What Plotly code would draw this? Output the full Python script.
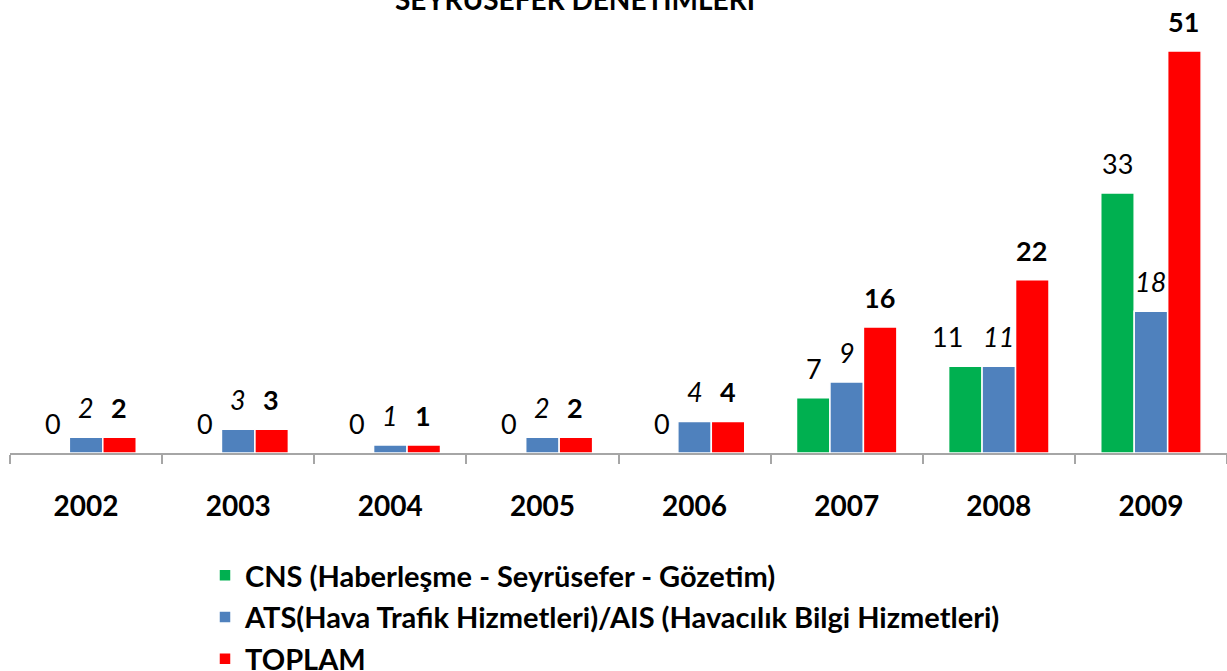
import plotly.graph_objects as go

years = ["2002", "2003", "2004", "2005", "2006", "2007", "2008", "2009"]
cns = [0, 0, 0, 0, 0, 7, 11, 33]
ats = [2, 3, 1, 2, 4, 9, 11, 18]
toplam = [2, 3, 1, 2, 4, 16, 22, 51]

names = ["CNS (Haberleşme - Seyrüsefer - Gözetim)",
         "ATS(Hava Trafik Hizmetleri)/AIS (Havacılık Bilgi Hizmetleri)",
         "TOPLAM"]
colors = ["#00B050", "#4F81BD", "#FF0000"]
title_text = "SEYRÜSEFER DENETİMLERİ"

FONT = "Lato"
series = [cns, ats, toplam]
fig = go.Figure()
for i, (vals, nm, col) in enumerate(zip(series, names, colors)):
    fig.add_trace(go.Bar(x=years, y=vals, name=nm, marker_color=col,
                         marker_line=dict(color="white", width=1.5),
                         legendgroup=f"g{i}"))

label_styles = [dict(weight="normal", style="normal"),
                dict(weight="normal", style="italic"),
                dict(weight="bold", style="normal")]
shifts = [-33, 0, 33]
# manual nudge of a single label, as in the original chart (series index, category index) -> px
nudges = {(0, 6): -18}
for s, (vals, st, sh) in enumerate(zip(series, label_styles, shifts)):
    for idx, v in enumerate(vals):
        fig.add_annotation(x=idx, y=v, text=str(v), showarrow=False,
                           xref="x", yref="y",
                           xshift=sh + nudges.get((s, idx), 0), yshift=11,
                           yanchor="bottom",
                           font=dict(family=FONT, size=27, color="black",
                                     weight=st["weight"], style=st["style"]))

fig.add_annotation(text=title_text, xref="paper", yref="paper",
                   x=(575 - 10) / 1217, y=1 - 18 / 453, xanchor="center",
                   yanchor="bottom", showarrow=False,
                   font=dict(family=FONT, size=28, color="black", weight="bold"))

fig.update_layout(
    width=1227, height=671,
    margin=dict(l=10, r=0, t=0, b=218, autoexpand=False),
    paper_bgcolor="white", plot_bgcolor="white",
    barmode="group", bargap=0.34, bargroupgap=0.0,
    font=dict(family=FONT, color="black"),
    legend=dict(orientation="v", xref="container", yref="container",
                x=205 / 1227, y=1 - 550 / 671, xanchor="left", yanchor="top",
                font=dict(family=FONT, size=29, color="black", weight="bold"),
                tracegroupgap=1, bgcolor="rgba(0,0,0,0)"),
    showlegend=True,
)
fig.update_xaxes(type="category", range=[-0.5, len(years) - 0.5],
                 showline=True, linecolor="#A6A6A6", linewidth=1.5,
                 ticks="outside", tickson="boundaries", ticklen=9,
                 tickcolor="#A6A6A6", tickwidth=1.5,
                 tickfont=dict(family=FONT, size=28, color="black", weight="bold"),
                 ticklabelstandoff=28, showgrid=False)
fig.update_yaxes(visible=False, range=[0, 453 / 7.88], showgrid=False)

fig.write_html("out.html", config={"displayModeBar": False},
               post_script="document.body.style.margin='0';document.body.style.padding='0';")
